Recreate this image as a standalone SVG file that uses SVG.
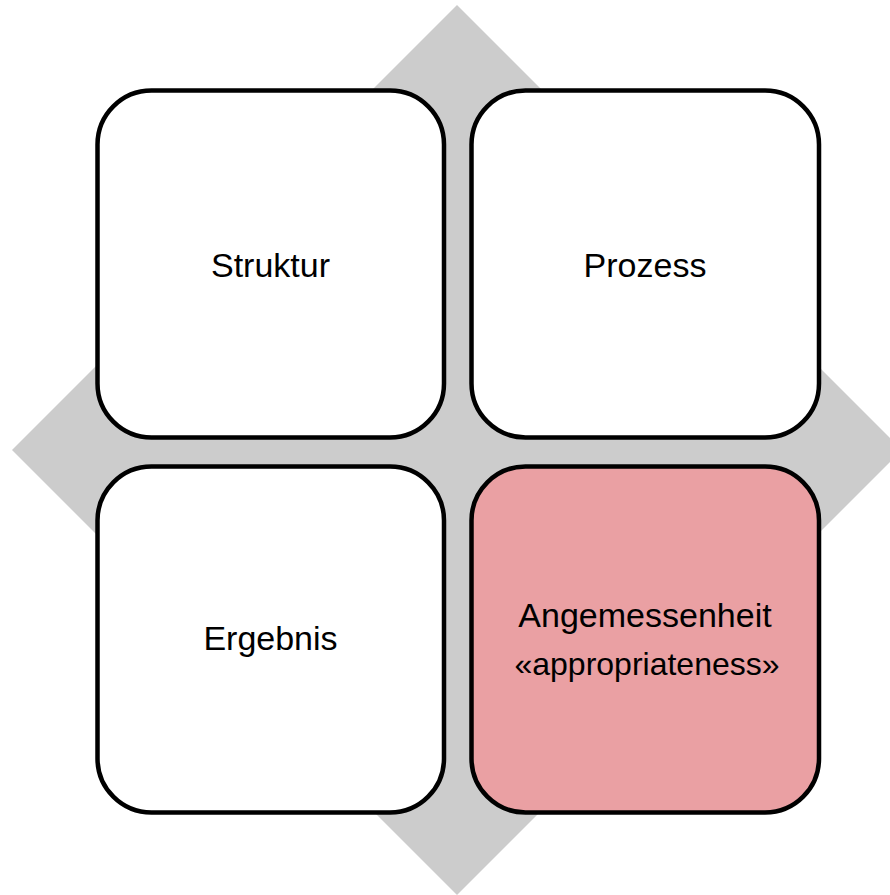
<svg xmlns="http://www.w3.org/2000/svg" width="890" height="895" viewBox="0 0 890 895">
<style>
.box{stroke:#000;stroke-width:4.5;}
.t{font-family:"Liberation Sans",Arial,sans-serif;font-size:34px;fill:#000;text-anchor:middle;}
</style>
<rect width="890" height="895" fill="#fff"/>
<g id="diamond"><polygon points="457,5 902,450 457,895 12,450" fill="#cccccc"/></g>
<g id="struktur"><rect class="box" x="97.5" y="90.5" width="346.5" height="347" rx="54" fill="#fff"/><text class="t" x="270.5" y="277">Struktur</text></g>
<g id="prozess"><rect class="box" x="471.5" y="90.5" width="347.5" height="347" rx="54" fill="#fff"/><text class="t" x="645" y="277">Prozess</text></g>
<g id="ergebnis"><rect class="box" x="97.5" y="466.5" width="346.5" height="346" rx="54" fill="#fff"/><text class="t" x="270.5" y="650">Ergebnis</text></g>
<g id="angemessenheit"><rect class="box" x="471.5" y="466.5" width="347.5" height="346" rx="54" fill="#eaa0a3"/><text class="t" x="645" y="627">Angemessenheit</text><text class="t" x="647" y="675" style="font-size:32px">«appropriateness»</text></g>
<g id="connectors"/>
</svg>
